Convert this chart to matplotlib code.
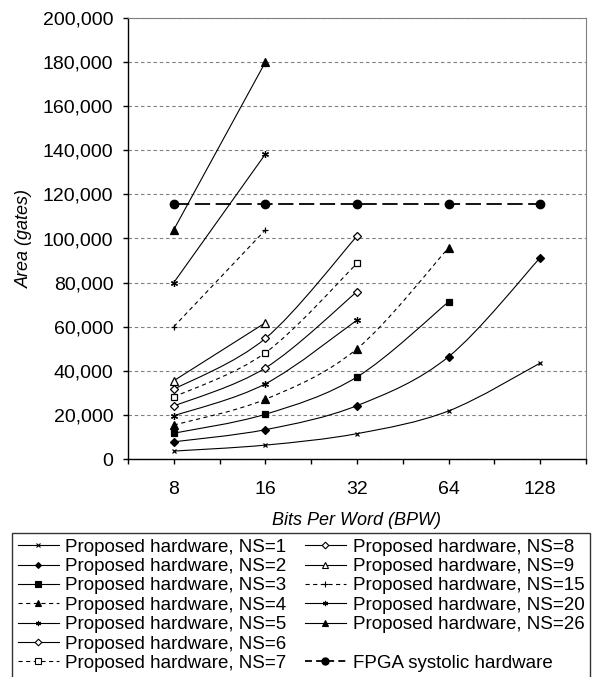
import numpy as np
import matplotlib.pyplot as plt
from matplotlib.path import Path
from matplotlib.patches import PathPatch
from matplotlib.lines import Line2D

plt.rcParams['font.family'] = ['Liberation Sans', 'DejaVu Sans']
plt.rcParams['lines.scale_dashes'] = False

# data (area in gates)
bpw_labels = ['8', '16', '32', '64', '128']
ns1 = [3600, 6300, 11500, 21800, 43500]
ns2 = [7800, 13300, 24200, 46400, 91300]
ns3 = [11700, 20300, 37200, 71300]
ns4 = [15400, 27100, 50000, 95800]
ns5 = [19600, 34100, 63000]
ns6 = [24000, 41300, 75900]
ns7 = [28100, 48200, 88700]
ns8 = [31600, 54700, 101100]
ns9 = [35500, 61800]
ns15 = [60000, 103900]
ns20 = [80000, 138300]
ns26 = [104000, 180000]
fpga = [115600, 115600, 115600, 115600, 115600]

DASH = (0, (3, 2.5))
ASTER = (6, 2, 0)

series = [
    ('Proposed hardware, NS=1', ns1, 'x', 'k', 3.5, '-'),
    ('Proposed hardware, NS=2', ns2, 'D', 'k', 4, '-'),
    ('Proposed hardware, NS=3', ns3, 's', 'k', 5, '-'),
    ('Proposed hardware, NS=4', ns4, '^', 'k', 5.5, DASH),
    ('Proposed hardware, NS=5', ns5, ASTER, 'k', 5, '-'),
    ('Proposed hardware, NS=6', ns6, 'D', 'w', 4.5, '-'),
    ('Proposed hardware, NS=7', ns7, 's', 'w', 5, DASH),
    ('Proposed hardware, NS=8', ns8, 'D', 'w', 4.5, '-'),
    ('Proposed hardware, NS=9', ns9, '^', 'w', 5.5, '-'),
    ('Proposed hardware, NS=15', ns15, '+', 'k', 5, DASH),
    ('Proposed hardware, NS=20', ns20, ASTER, 'k', 5, '-'),
    ('Proposed hardware, NS=26', ns26, '^', 'k', 5.5, '-'),
]


def smooth_path(xs, ys):
    # Catmull-Rom style smoothing like Excel's "smoothed line"
    pts = np.column_stack([xs, ys]).astype(float)
    n = len(pts)
    verts = [pts[0]]
    codes = [Path.MOVETO]
    for i in range(n - 1):
        p0 = pts[i - 1] if i > 0 else pts[i]
        p1 = pts[i]
        p2 = pts[i + 1]
        p3 = pts[i + 2] if i + 2 < n else pts[i + 1]
        verts += [p1 + (p2 - p0) / 6, p2 - (p3 - p1) / 6, p2]
        codes += [Path.CURVE4] * 3
    return Path(verts, codes)


fig = plt.figure(figsize=(5.95, 6.77), dpi=100)
ax = fig.add_axes([128 / 595, 1 - 459 / 677, 458 / 595, 441 / 677])

handles = []
for label, vals, mk, mfc, ms, ls in series:
    xs = np.arange(len(vals))
    ax.add_patch(PathPatch(smooth_path(xs, vals), fill=False, ec='k',
                           lw=0.8, ls=ls, zorder=3))
    ax.plot(xs, vals, ls='none', marker=mk, ms=ms, mfc=mfc, mec='k',
            mew=0.9, zorder=4)
    handles.append(Line2D([], [], color='k', lw=0.8, ls=ls, marker=mk,
                          ms=ms * 0.75, mfc=mfc, mec='k', mew=0.8))

xf = np.arange(len(fpga))
ax.plot(xf, fpga, color='k', lw=1.3, ls=(0, (11, 4)), marker='o', ms=6,
        zorder=4)
blank = Line2D([], [], color='none')
h_fpga = Line2D([], [], color='k', lw=1.3, ls=(0, (5, 3)), marker='o', ms=5)

ax.set_xlim(-0.5, 4.5)
ax.set_ylim(0, 200000)
ax.set_xticks(range(5))
ax.set_xticklabels(bpw_labels)
ax.set_xticks(np.arange(-0.5, 5, 1), minor=True)
ax.set_yticks(range(0, 200001, 20000))
ax.set_yticklabels(['{:,}'.format(v) for v in range(0, 200001, 20000)])
ax.tick_params(axis='both', which='both', direction='out', length=3.6,
               width=1, labelsize=14, color='k')
ax.tick_params(axis='x', pad=12)
ax.tick_params(axis='y', pad=7)
ax.yaxis.grid(True, color='#808080', ls=(0, (2.5, 2)), lw=0.8)
ax.set_axisbelow(True)
for s in ['top', 'right']:
    ax.spines[s].set_color('#808080')
for s in ['left', 'bottom']:
    ax.spines[s].set_color('k')
    ax.spines[s].set_linewidth(1)

ax.set_ylabel('Area (gates)', fontsize=13, style='italic', labelpad=7)
ax.set_xlabel('Bits Per Word (BPW)', fontsize=13, style='italic', labelpad=10)

labels = [s[0] for s in series]
leg_handles = handles[:7] + handles[7:] + [blank, h_fpga]
leg_labels = labels[:7] + labels[7:] + ['', 'FPGA systolic hardware']
leg = fig.legend(leg_handles, leg_labels, ncol=2, loc='upper left',
                 bbox_to_anchor=(12 / 595, 2 / 677, 578 / 595, 142 / 677),
                 mode='expand', fontsize=13.5, frameon=True, fancybox=False,
                 edgecolor='k', borderaxespad=0, labelspacing=0.12,
                 handlelength=2.2, handletextpad=0.35, borderpad=0.3,
                 columnspacing=0.5)
leg.get_frame().set_linewidth(1)

fig.savefig('out.png', dpi=100)
